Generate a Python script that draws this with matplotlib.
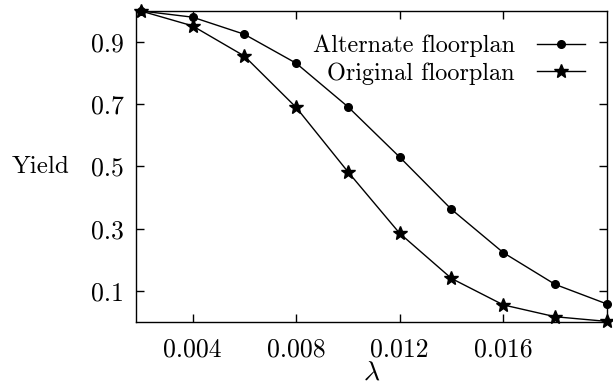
import matplotlib
matplotlib.use("Agg")
import matplotlib.pyplot as plt

lam = [0.002, 0.004, 0.006, 0.008, 0.010, 0.012, 0.014, 0.016, 0.018, 0.020]
alternate = [1.0, 0.98, 0.925, 0.832, 0.692, 0.530, 0.362, 0.223, 0.121, 0.058]
original = [1.0, 0.952, 0.855, 0.690, 0.483, 0.285, 0.140, 0.055, 0.017, 0.002]
xticks = [0.004, 0.008, 0.012, 0.016]
yticks = [0.1, 0.3, 0.5, 0.7, 0.9]

plt.rcParams['font.family'] = ['cmr10', 'DejaVu Serif']
plt.rcParams['mathtext.fontset'] = 'cm'
plt.rcParams['axes.unicode_minus'] = False

fig = plt.figure(figsize=(6.13, 3.85), dpi=100)
ax = fig.add_axes([0.222, 0.1636, 0.768, 0.808])

ax.plot(lam, alternate, color='black', lw=1.0, marker='o', ms=5.5,
        label='Alternate floorplan', clip_on=False, zorder=3)
ax.plot(lam, original, color='black', lw=1.0, marker='*', ms=10,
        label='Original floorplan', clip_on=False, zorder=3)

ax.set_xlim(0.00182, 0.020)
ax.set_ylim(0.0, 1.0)
ax.set_xticks(xticks)
ax.set_xticklabels([f"{v:.3f}" for v in xticks])
ax.set_yticks(yticks)
ax.set_yticklabels([f"{v:.1f}" for v in yticks])
ax.tick_params(direction='in', top=True, right=True, length=6, width=1,
               labelsize=18.5)
ax.tick_params(axis='x', pad=11)
ax.tick_params(axis='y', pad=9)
for s in ax.spines.values():
    s.set_linewidth(1.0)

ax.set_xlabel(r'$\lambda$', fontsize=20, labelpad=-1)
ax.set_ylabel('Yield', fontsize=18, rotation=0, ha='left', va='center')
ax.yaxis.set_label_coords(-0.265, 0.5)

ax.legend(loc='upper right', frameon=False, markerfirst=False, fontsize=17.5,
          handlelength=2.0, handletextpad=0.9, labelspacing=0.2,
          borderaxespad=0.0, bbox_to_anchor=(0.975, 0.955))

fig.savefig('out.png', dpi=100)
